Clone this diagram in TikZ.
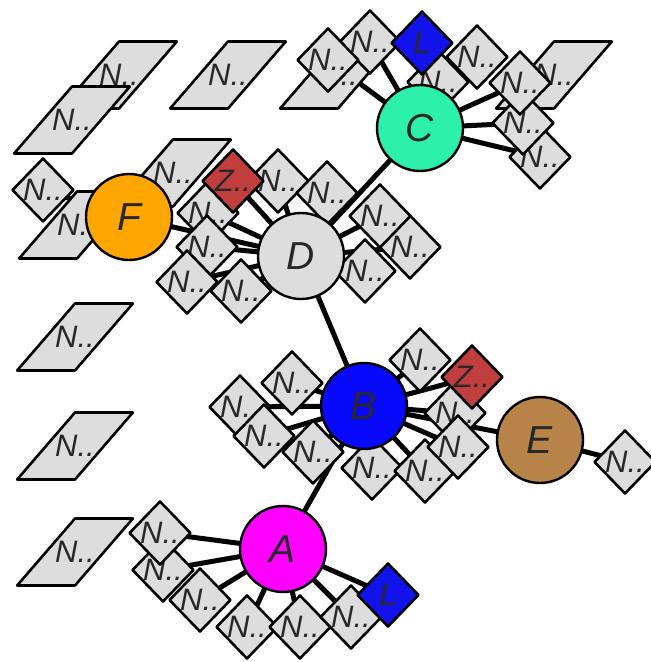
\documentclass[tikz,border=0pt]{standalone}
\usepackage{fontspec}
\setmainfont{Liberation Sans}
\usetikzlibrary{shapes.geometric}

% 颜色
\definecolor{ngray}{RGB}{221,221,221}
\definecolor{txt}{RGB}{40,40,40}
\definecolor{cgreen}{RGB}{45,240,172}
\definecolor{forange}{RGB}{255,166,0}
\definecolor{zred}{RGB}{192,62,62}
\definecolor{lblue}{RGB}{18,18,235}
\definecolor{bblue}{RGB}{8,8,250}
\definecolor{ebrown}{RGB}{184,132,74}
\definecolor{amag}{RGB}{255,0,255}

\pgfdeclarelayer{bg}
\pgfsetlayers{bg,main}

\tikzset{
  hub/.style={circle,draw,line width=2.4pt,minimum size=86pt,inner sep=0pt,
    font=\fontsize{39}{39}\selectfont\itshape,text=txt},
  nd/.style={diamond,draw,line width=2.6pt,fill=ngray,minimum width=62pt,
    minimum height=64pt,inner sep=0pt,font=\fontsize{31}{31}\selectfont\itshape,text=txt},
  np/.style={trapezium,trapezium left angle=62,trapezium right angle=118,
    trapezium stretches=true,draw,line width=2.6pt,fill=ngray,minimum width=116pt,
    minimum height=67pt,inner sep=0pt,font=\fontsize{31}{31}\selectfont\itshape,text=txt},
  link/.style={line width=5pt,line cap=round},
}

\def\nlab{\makebox[0pt]{N..}}
\def\zlab{\makebox[0pt]{Z..}}
\def\llab{\makebox[0pt]{L}}

\begin{document}
\begin{tikzpicture}[x=1pt,y=-1pt,line join=round]
\useasboundingbox (0,0) rectangle (651,662);

% 平行四边形（孤立点）
\foreach \nm/\px/\py in {pT1/119/75,pT2/72/120,pT3/228/75,pC1/338/75,pC2/554/75,
    pD/173/173,pF/77/225,pL1/75/337,pL2/75/446,pL3/75/552}
  \node[np] (\nm) at (\px,\py) {\nlab};

% C 周围
\foreach \nm/\px/\py in {c7/438/82,c2/370/42,c1/328/60,c3/477/57}
  \node[nd] (\nm) at (\px,\py) {\nlab};
\node[nd,fill=lblue] (cL) at (422,43) {\llab};
\foreach \nm/\px/\py in {c6/540/157,c5/523/123,c4/520/83}
  \node[nd] (\nm) at (\px,\py) {\nlab};

% D 周围
\foreach \nm/\px/\py in {d6/208/213,d1/278/181,d2/327/193,d4/410/247,d5/365/271,
    d3/380/216,d7/207/247,d8/187/282,d9/241/291}
  \node[nd] (\nm) at (\px,\py) {\nlab};
\node[nd,fill=zred] (dZ) at (233,181) {\zlab};

% F 周围
\node[nd] (f1) at (43,190) {\nlab};

% B 周围
\foreach \nm/\px/\py in {b1/240/407,b2/292/383,b3/264/436,b4/313/452,b5/372/468,
    b6/425/471,b8/455/413,b7/458/447,b9/420/360}
  \node[nd] (\nm) at (\px,\py) {\nlab};
\node[nd,fill=zred] (bZ) at (472,377) {\zlab};

% E 周围
\node[nd] (e1) at (625,462) {\nlab};

% A 周围
\foreach \nm/\px/\py in {a2/163/570,a1/160/533,a3/200/600,a4/247/627,a5/300/627,a6/351/617}
  \node[nd] (\nm) at (\px,\py) {\nlab};
\node[nd,fill=lblue] (aL) at (388,595) {\llab};

% 圆形主节点
\node[hub,fill=cgreen] (C) at (420,128) {C};
\node[hub,fill=ngray]  (D) at (301,256) {D};
\node[hub,fill=forange] (F) at (129,217) {F};
\node[hub,fill=bblue]  (B) at (364,406) {B};
\node[hub,fill=ebrown] (E) at (540,440) {E};
\node[hub,fill=amag]   (A) at (283,549) {A};

% 连线放在底层
\begin{pgfonlayer}{bg}
  \foreach \t in {c1,c2,c3,c4,c5,c6,c7,cL,D}
    \draw[link] (C.center) -- (\t.center);
  \foreach \t in {d1,d2,d3,d4,d5,d6,d7,d8,d9,dZ,F,B}
    \draw[link] (D.center) -- (\t.center);
  \foreach \t in {b1,b2,b3,b4,b5,b6,b7,b8,b9,bZ,E,A}
    \draw[link] (B.center) -- (\t.center);
  \foreach \t in {a1,a2,a3,a4,a5,a6,aL}
    \draw[link] (A.center) -- (\t.center);
  \draw[link] (F.center) -- (f1.center);
  \draw[link] (E.center) -- (e1.center);
\end{pgfonlayer}

\end{tikzpicture}
\end{document}
